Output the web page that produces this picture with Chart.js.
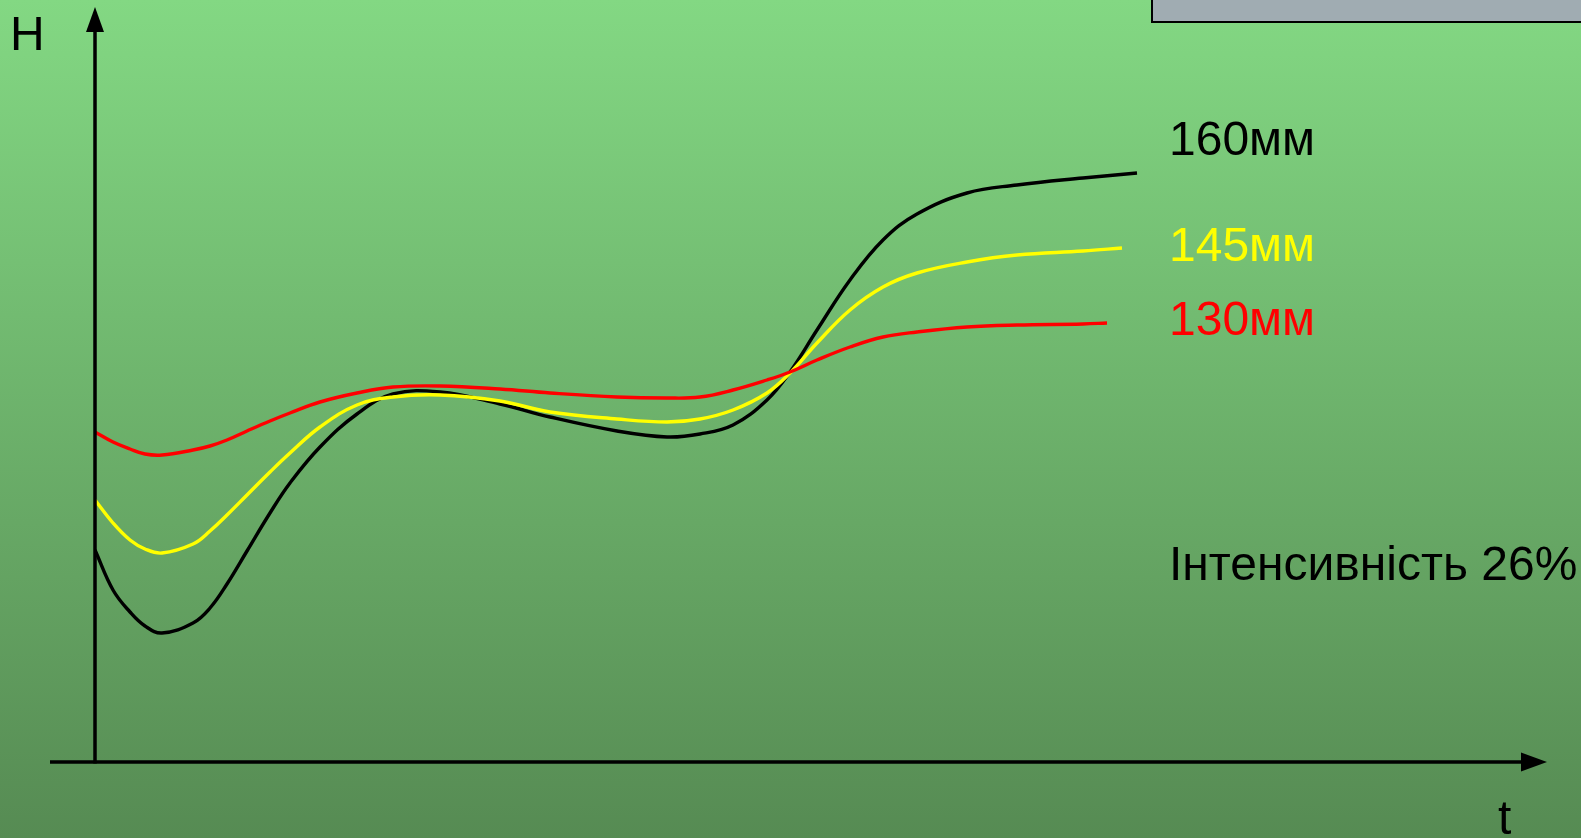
<!DOCTYPE html>
<html>
<head>
<meta charset="utf-8">
<script src="https://cdn.jsdelivr.net/npm/chart.js@4"></script>
<style>
  html, body { margin: 0; padding: 0; overflow: hidden; }
  #wrap { width: 1581px; height: 838px; }
</style>
</head>
<body>
<div id="wrap"><canvas id="c" width="1581" height="838"></canvas></div>
<script>
// time (arbitrary units) shared by the three curves
const tCommon = [0, 1.8, 3.5, 5.0, 6.7, 9.8, 11.5, 13.2, 15.2, 17.5, 19.5, 22.5, 26.2, 29.8, 34.5, 40.5, 45.5, 52.2, 57.2, 60.5, 63.8, 67.2, 69.5, 72.2, 75.5, 78.8, 82.2, 87.2, 92.2, 98.8];
// last time value of each curve
const tEnd160 = 104.2;
const tEnd145 = 102.7;
const tEnd130 = 101.2;

// H values per rod diameter
const h160 = [21.2, 17.2, 15.0, 13.6, 12.9, 13.9, 15.4, 17.8, 21.1, 24.9, 27.9, 31.5, 34.8, 36.8, 37.0, 35.8, 34.5, 33.1, 32.5, 32.8, 33.7, 36.2, 39.0, 43.2, 48.2, 52.2, 54.8, 56.9, 57.7, 58.4, 58.9];
const h145 = [26.2, 23.9, 22.2, 21.3, 20.9, 21.8, 23.1, 24.7, 26.7, 29.0, 30.9, 33.5, 35.7, 36.5, 36.7, 36.1, 35.0, 34.3, 34.0, 34.3, 35.2, 36.9, 38.9, 41.9, 45.2, 47.5, 48.9, 50.0, 50.7, 51.1, 51.4];
const h130 = [33.0, 32.0, 31.3, 30.8, 30.7, 31.2, 31.6, 32.2, 33.1, 34.1, 34.9, 36.0, 36.9, 37.5, 37.6, 37.3, 36.9, 36.5, 36.4, 36.5, 37.2, 38.2, 39.0, 40.2, 41.5, 42.5, 43.0, 43.5, 43.7, 43.8, 43.9];

const seriesLabels = ['160мм', '145мм', '130мм'];
const axisLabelY = 'H';
const axisLabelX = 't';
const noteText = 'Інтенсивність 26%';

const xMax = 145.2, yMax = 75.5, xAxisStart = -4.5;

function pts(tEnd, hArr) {
  const t = tCommon.concat([tEnd]);
  return hArr.map((h, i) => ({ x: t[i], y: h }));
}

const FONT = '48px "Liberation Sans", Arial, sans-serif';

const decor = {
  id: 'decor',
  beforeDraw(chart) {
    const ctx = chart.ctx;
    const W = chart.width, Hh = chart.height;
    const g = ctx.createLinearGradient(0, 0, 0, Hh);
    g.addColorStop(0, '#83d883');
    g.addColorStop(1, '#568b53');
    ctx.save();
    ctx.fillStyle = g;
    ctx.fillRect(0, 0, W, Hh);
    // grey box top right
    ctx.fillStyle = '#a0acb2';
    ctx.fillRect(1152, -2, W - 1152 + 2, 24);
    ctx.strokeStyle = '#000';
    ctx.lineWidth = 2;
    ctx.strokeRect(1152, -2, W - 1152 + 4, 24);
    ctx.restore();
  },
  afterDatasetsDraw(chart) {
    const ctx = chart.ctx;
    const xs = chart.scales.x, ys = chart.scales.y;
    const x0 = xs.getPixelForValue(0), y0 = ys.getPixelForValue(0);
    const xEnd = xs.getPixelForValue(xMax), yTop = ys.getPixelForValue(yMax);
    const xStart = xs.getPixelForValue(xAxisStart);
    ctx.save();
    ctx.strokeStyle = '#000';
    ctx.fillStyle = '#000';
    ctx.lineWidth = 3.5;
    ctx.beginPath();
    ctx.moveTo(x0, y0 + 1.5);
    ctx.lineTo(x0, yTop + 22);
    ctx.stroke();
    ctx.beginPath();
    ctx.moveTo(xStart, y0);
    ctx.lineTo(xEnd - 22, y0);
    ctx.stroke();
    // arrow heads
    ctx.beginPath();
    ctx.moveTo(x0, yTop);
    ctx.lineTo(x0 - 9, yTop + 25);
    ctx.lineTo(x0 + 9, yTop + 25);
    ctx.closePath();
    ctx.fill();
    ctx.beginPath();
    ctx.moveTo(xEnd, y0);
    ctx.lineTo(xEnd - 26, y0 - 9.5);
    ctx.lineTo(xEnd - 26, y0 + 9.5);
    ctx.closePath();
    ctx.fill();
    // texts
    ctx.font = FONT;
    ctx.textBaseline = 'alphabetic';
    ctx.textAlign = 'left';
    ctx.fillStyle = '#000';
    ctx.fillText(axisLabelY, 10, 50);
    ctx.fillText(axisLabelX, 1498, 834);
    ctx.fillText(seriesLabels[0], 1169, 155);
    ctx.fillStyle = '#ffff00';
    ctx.fillText(seriesLabels[1], 1169, 261);
    ctx.fillStyle = '#ff0000';
    ctx.fillText(seriesLabels[2], 1169, 335);
    ctx.fillStyle = '#000';
    ctx.fillText(noteText, 1169, 580);
    ctx.restore();
  }
};

new Chart(document.getElementById('c'), {
  type: 'line',
  data: {
    datasets: [
      { label: seriesLabels[2], data: pts(tEnd130, h130), borderColor: '#ff0000', order: 1 },
      { label: seriesLabels[1], data: pts(tEnd145, h145), borderColor: '#ffff00', order: 2 },
      { label: seriesLabels[0], data: pts(tEnd160, h160), borderColor: '#000000', order: 3 }
    ]
  },
  options: {
    responsive: false,
    animation: false,
    events: [],
    layout: { padding: { left: 95, right: 34, top: 7, bottom: 76 } },
    elements: {
      line: { borderWidth: 3.4, tension: 0.4, fill: false, borderCapStyle: 'butt', borderJoinStyle: 'round' },
      point: { radius: 0 }
    },
    scales: {
      x: { type: 'linear', min: 0, max: xMax, display: false },
      y: { type: 'linear', min: 0, max: yMax, display: false }
    },
    plugins: { legend: { display: false }, tooltip: { enabled: false }, title: { display: false } }
  },
  plugins: [decor]
});
</script>
</body>
</html>
